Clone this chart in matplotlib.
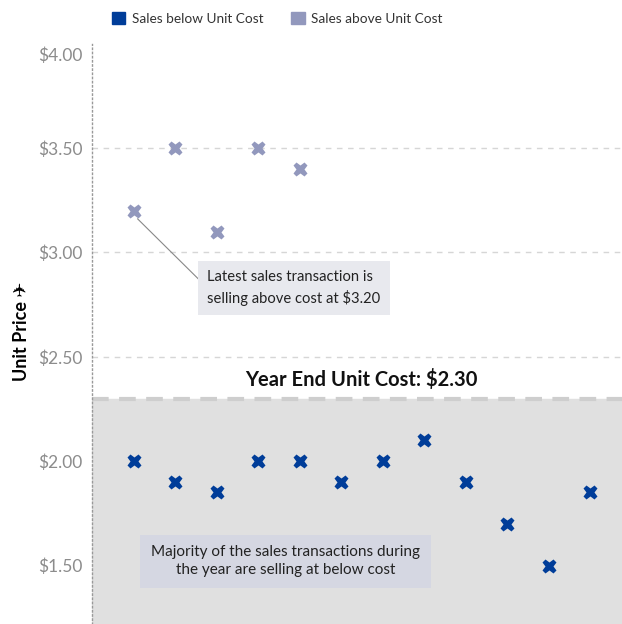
import matplotlib.pyplot as plt
from matplotlib.patches import Patch
from matplotlib.ticker import FuncFormatter
from matplotlib.transforms import ScaledTranslation

plt.rcParams['font.family'] = ['Lato', 'DejaVu Sans']

# unit price of each sales transaction
below_idx = [0, 1, 2, 3, 4, 5, 6, 7, 8, 9, 10, 11]
below_price = [2.00, 1.90, 1.85, 2.00, 2.00, 1.90, 2.00, 2.10, 1.90, 1.70, 1.50, 1.85]
above_idx = [0, 1, 2, 3, 4]
above_price = [3.20, 3.50, 3.10, 3.50, 3.40]
unit_cost = 2.30
y_ticks = [1.50, 2.00, 2.50, 3.00, 3.50, 4.00]

dark = '#003d99'
light = '#9298bd'

fig = plt.figure(figsize=(6.22, 6.24), dpi=100)
ax = fig.add_axes([0.148, 0.0, 0.852, 0.93])

ax.set_xlim(-1, 11.77)
ax.set_ylim(1.22, 4.0)

# shaded area below the year end cost
ax.axhspan(1.22, unit_cost, color='#e0e0e0', zorder=0)
ax.axhline(unit_cost, color='#cecece', lw=3, ls=(0, (4, 2.5)), zorder=1)

for t in [2.5, 3.0, 3.5]:
    ax.axhline(t, color='#d6d6d6', lw=1, ls=(0, (4, 4)), zorder=1)

ax.plot(below_idx, below_price, 'X', color=dark, ms=10.5, mec='none', zorder=3)
ax.plot(above_idx, above_price, 'X', color=light, ms=10.5, mec='none', zorder=3)

ax.set_yticks(y_ticks)
ax.yaxis.set_major_formatter(FuncFormatter(lambda v, p: '${:.2f}'.format(v)))
ax.tick_params(axis='y', length=0, pad=7, labelsize=12.5, labelcolor='#8c8c8c')
ax.set_xticks([])
for s in ['top', 'right', 'bottom']:
    ax.spines[s].set_visible(False)
ax.spines['left'].set_color('#999999')
ax.spines['left'].set_linestyle((0, (1, 2)))
ax.spines['left'].set_linewidth(1)

# push the top tick label down a little
top_lbl = ax.yaxis.get_major_ticks()[-1].label1
top_lbl.set_transform(top_lbl.get_transform() + ScaledTranslation(0, -0.11, fig.dpi_scale_trans))

ax.set_ylabel('Unit Price \u2708', fontsize=13, fontweight='bold')
ax.yaxis.set_label_coords(-0.118, 0.505)

ax.text(5.48, 2.39, 'Year End Unit Cost: $2.30', ha='center', va='center',
        fontsize=14.5, fontweight='bold', color='#111111')

ax.annotate('Latest sales transaction is\nselling above cost at $3.20',
            xy=(0, 3.18), xytext=(1.78, 2.83), fontsize=10.6, color='#222222',
            ha='left', va='center', linespacing=1.45,
            bbox=dict(boxstyle='square,pad=0.62', fc='#e8e9ee', ec='none'),
            arrowprops=dict(arrowstyle='-', color='#888888', lw=0.8,
                            shrinkA=0, shrinkB=4, relpos=(0, 0.5)))

ax.text(3.66, 1.52, 'Majority of the sales transactions during\nthe year are selling at below cost',
        ha='center', va='center', fontsize=11, color='#222222', linespacing=1.35,
        bbox=dict(boxstyle='square,pad=0.7', fc='#d5d7e2', ec='none'))

handles = [Patch(color=dark, label='Sales below Unit Cost'),
           Patch(color=light, label='Sales above Unit Cost')]
fig.legend(handles=handles, loc='upper left', bbox_to_anchor=(0.16, 1.0), ncol=2,
           frameon=False, fontsize=9.8, handlelength=1.0, handleheight=1.0,
           handletextpad=0.5, columnspacing=2.0, labelcolor='#333333')

fig.savefig('out.png', dpi=100)
